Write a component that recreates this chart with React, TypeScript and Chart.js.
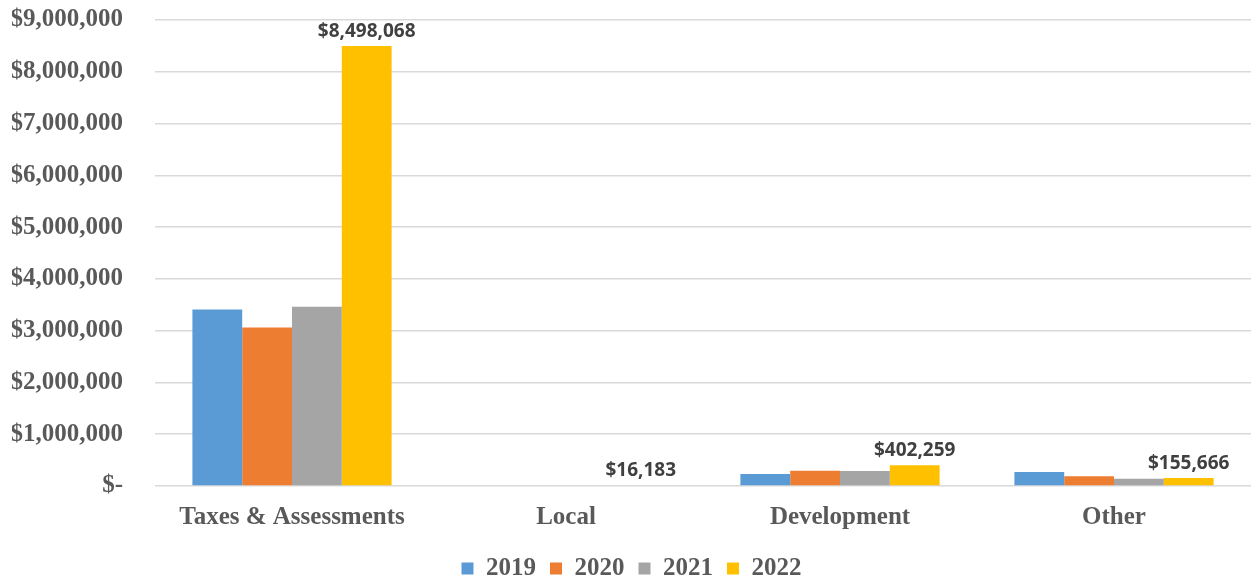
import React, { useEffect, useRef } from "react";
import { Chart, registerables } from "chart.js";

Chart.register(...registerables);

const categories = ["Taxes & Assessments", "Local", "Development", "Other"];
const years = ["2019", "2020", "2021", "2022"];
const values2019 = [3410000, 0, 232000, 270000];
const values2020 = [3060000, 0, 296000, 188000];
const values2021 = [3460000, 0, 292000, 140000];
const values2022 = [8498068, 16183, 402259, 155666];
const colors = ["#5B9BD5", "#ED7D31", "#A5A5A5", "#FFC000"];
const labeledSeries = 3;

const fmtMoney = (v: number) => (v === 0 ? "$-" : "$" + v.toLocaleString("en-US"));

const serif = "'Liberation Serif', 'Times New Roman', serif";

const labelPlugin = {
  id: "barLabels",
  afterDatasetsDraw(chart: any) {
    const ctx = chart.ctx;
    const meta = chart.getDatasetMeta(labeledSeries);
    const data = chart.data.datasets[labeledSeries].data as number[];
    ctx.save();
    ctx.font = "bold 19px 'Open Sans', 'Liberation Sans', sans-serif";
    ctx.fillStyle = "#404040";
    ctx.textAlign = "center";
    ctx.textBaseline = "bottom";
    meta.data.forEach((el: any, i: number) => {
      ctx.fillText(fmtMoney(data[i]), el.x, el.y - 5);
    });
    ctx.restore();
  },
};

export default function App() {
  const ref = useRef<HTMLCanvasElement | null>(null);
  useEffect(() => {
    if (!ref.current) return;
    const seriesValues = [values2019, values2020, values2021, values2022];
    const chart = new Chart(ref.current, {
      type: "bar",
      data: {
        labels: categories,
        datasets: years.map((y, i) => ({
          label: y,
          data: seriesValues[i],
          backgroundColor: colors[i],
          borderWidth: 0,
          categoryPercentage: 0.727,
          barPercentage: 1,
        })),
      },
      options: {
        animation: false,
        responsive: false,
        maintainAspectRatio: false,
        layout: { padding: { top: 20, right: 0, left: 12, bottom: -16 } },
        plugins: {
          title: { display: false },
          tooltip: { enabled: false },
          legend: {
            position: "bottom",
            labels: {
              boxWidth: 12,
              boxHeight: 12,
              padding: 14,
              color: "#595959",
              font: { family: serif, size: 25, weight: "bold" },
            },
          },
        },
        scales: {
          x: {
            grid: { display: false },
            border: { display: false },
            ticks: {
              color: "#595959",
              padding: 9,
              font: { family: serif, size: 25, weight: "bold" },
            },
          },
          y: {
            min: 0,
            max: 9000000,
            border: { display: false },
            grid: { color: "#D9D9D9", lineWidth: 1.5, drawTicks: false },
            afterFit: (scale: any) => {
              scale.width = 143;
              scale.paddingTop = 0;
              scale.paddingBottom = 0;
            },
            ticks: {
              stepSize: 1000000,
              color: "#595959",
              padding: 32,
              font: { family: serif, size: 25, weight: "bold" },
              callback: (v: any) => fmtMoney(Number(v)),
            },
          },
        },
      },
      plugins: [labelPlugin],
    });
    return () => chart.destroy();
  }, []);
  return (
    <div style={{ position: "fixed", left: 0, top: 0, width: 1251, height: 575, background: "#fff" }}>
      <canvas ref={ref} width={1251} height={575} />
    </div>
  );
}
